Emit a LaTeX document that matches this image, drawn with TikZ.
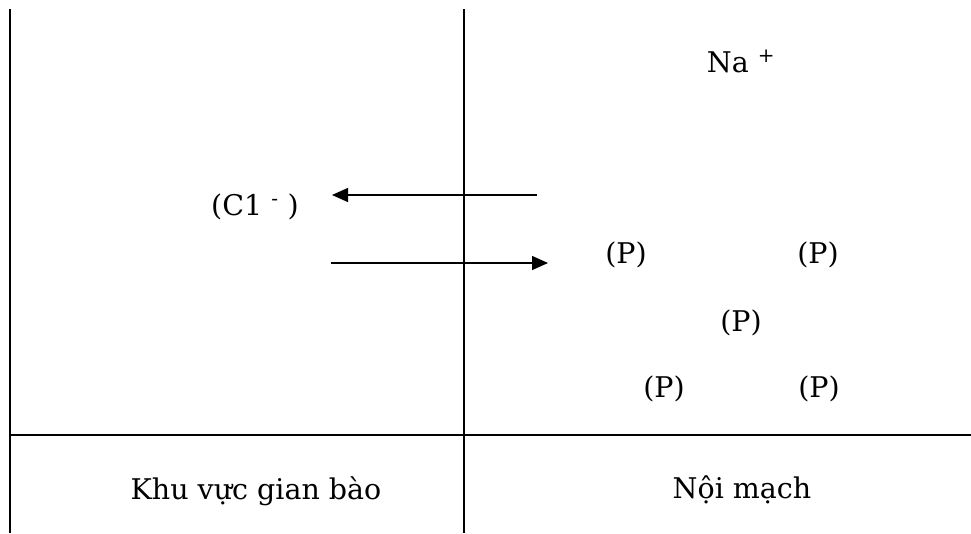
\documentclass[tikz,border=0pt]{standalone}
\usepackage{fontspec}
\setmainfont{DejaVu Serif}
\usetikzlibrary{arrows.meta}
\begin{document}
\begin{tikzpicture}[x=1pt,y=-1pt,
  frame/.style={line width=2.2pt},
  flow/.style={line width=1.4pt,-{Triangle[length=16pt,width=14pt]}},
  lbl/.style={font=\fontsize{28.5}{34}\selectfont, anchor=base, inner sep=0pt}]
\useasboundingbox (0,0) rectangle (971,533);
% frame
\coordinate (lt) at (10,9);
\coordinate (lb) at (10,533);
\coordinate (mt) at (464,9);
\coordinate (mb) at (464,533);
\coordinate (hl) at (10,435);
\coordinate (hr) at (971,435);
\draw[frame] (lt) -- (lb);
\draw[frame] (mt) -- (mb);
\draw[frame] (hl) -- (hr);
% arrows
\coordinate (a1s) at (537,195);
\coordinate (a1e) at (332,195);
\coordinate (a2s) at (331,263);
\coordinate (a2e) at (548,263);
\draw[flow] (a1s) -- (a1e);
\draw[flow] (a2s) -- (a2e);
% labels
\node[lbl] (cl) at (255,215) {(C1 \textsuperscript{-} )};
\node[lbl] (na) at (741,72) {Na \textsuperscript{+}};
\node[lbl] (p1) at (626,263) {(P)};
\node[lbl] (p2) at (818,263) {(P)};
\node[lbl] (p3) at (741,331) {(P)};
\node[lbl] (p4) at (664,397) {(P)};
\node[lbl] (p5) at (819,397) {(P)};
\node[lbl] (khu) at (256,499) {Khu vực gian bào};
\node[lbl] (noi) at (742,498) {Nội mạch};
\end{tikzpicture}
\end{document}
